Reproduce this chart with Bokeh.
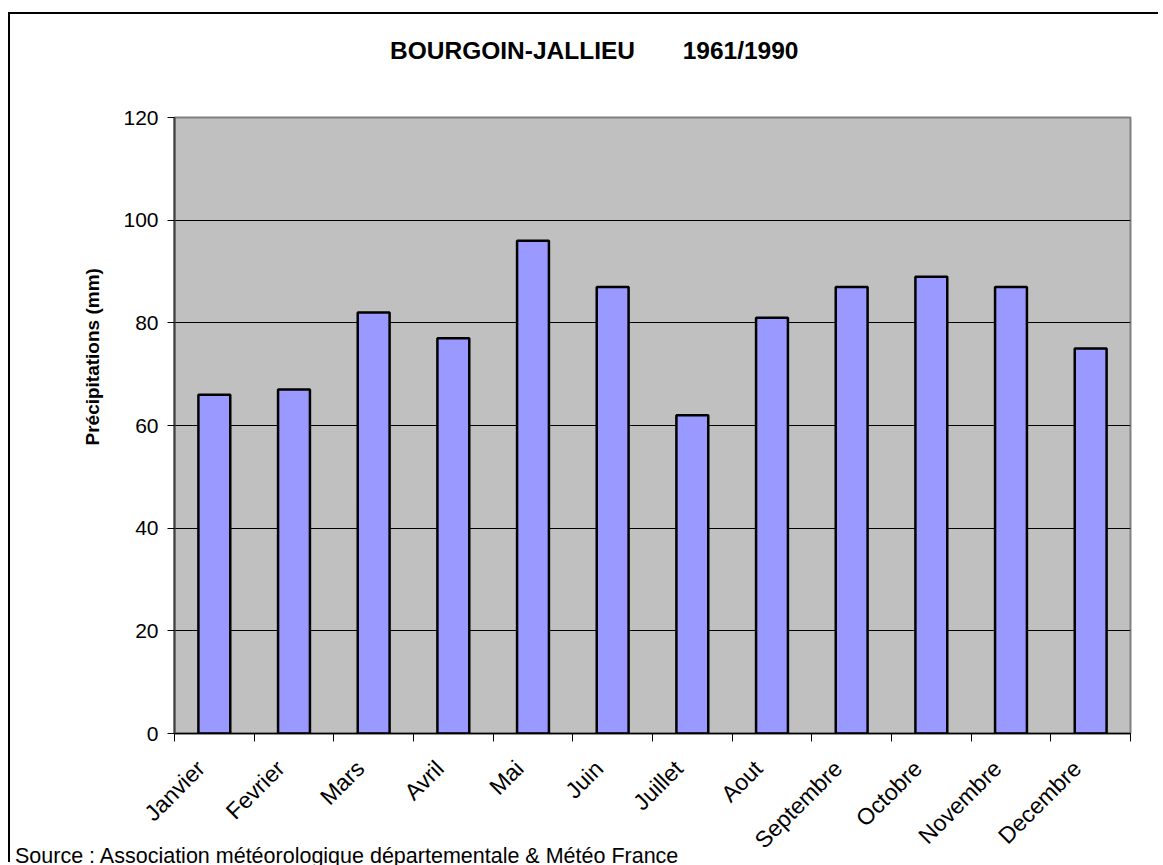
import math
from bokeh.plotting import figure
from bokeh.models import FixedTicker, Range1d, Title, Div
from bokeh.embed import file_html
from bokeh.resources import INLINE

months = ["Janvier", "Fevrier", "Mars", "Avril", "Mai", "Juin", "Juillet",
          "Aout", "Septembre", "Octobre", "Novembre", "Decembre"]
precip = [66, 67, 82, 77, 96, 87, 62, 81, 87, 89, 87, 75]
y_ticks = [0, 20, 40, 60, 80, 100, 120]
title_text = "BOURGOIN-JALLIEU\u00a0\u00a0\u00a0\u00a0\u00a0\u00a0\u00a01961/1990"
y_label = "Précipitations (mm)"
source_text = "Source : Association météorologique départementale & Météo France"

FONT = "Liberation Sans"
xs = [i + 0.5 for i in range(len(months))]
label_shift = 0.17
label_pos = [x - label_shift for x in xs]
bounds = list(range(len(months) + 1))

p = figure(width=1163, height=865, output_backend="svg", toolbar_location=None,
           x_range=Range1d(0, len(months)), y_range=Range1d(y_ticks[0], y_ticks[-1]),
           min_border_left=174, min_border_top=117, min_border_right=33,
           min_border_bottom=132, title=None)
p.background_fill_color = "#C0C0C0"
p.border_fill_color = "white"
p.outline_line_color = "#808080"
p.outline_line_width = 2

p.vbar(x=xs, top=precip, width=0.4, fill_color="#9999FF",
       line_color="black", line_width=2.5)

# x axis
xa = p.xaxis[0]
xa.ticker = FixedTicker(ticks=label_pos, minor_ticks=bounds)
xa.major_label_overrides = {x: m for x, m in zip(label_pos, months)}
xa.major_label_orientation = math.pi / 4
xa.major_tick_line_color = None
xa.major_tick_out = 0
xa.major_tick_in = 0
xa.minor_tick_line_color = "black"
xa.minor_tick_out = 8
xa.minor_tick_in = 0
xa.axis_line_color = "black"
xa.axis_line_width = 1.5
xa.major_label_text_font = FONT
xa.major_label_text_font_size = "23px"
xa.major_label_text_color = "black"
xa.major_label_standoff = 23

# y axis
ya = p.yaxis[0]
ya.ticker = FixedTicker(ticks=y_ticks)
ya.major_tick_out = 7
ya.major_tick_in = 0
ya.major_tick_line_color = "black"
ya.minor_tick_line_color = None
ya.axis_line_color = "#404040"
ya.axis_line_width = 2
ya.major_label_text_font = FONT
ya.major_label_text_font_size = "21px"
ya.major_label_text_color = "black"
ya.major_label_standoff = 9

p.xgrid.grid_line_color = None
p.ygrid.ticker = FixedTicker(ticks=y_ticks[1:-1])
p.ygrid.grid_line_color = "black"
p.ygrid.grid_line_width = 1

p.add_layout(Title(text=y_label, align="left", offset=288, standoff=36,
                   text_font=FONT, text_font_size="19px", text_font_style="bold",
                   text_color="black"), "left")

title_div = Div(text=title_text, width=460, height=30, margin=0,
                styles={"position": "absolute", "left": "390px", "top": "37px",
                        "font-family": FONT, "font-size": "24.5px",
                        "font-weight": "bold", "color": "black",
                        "white-space": "nowrap", "line-height": "normal"})
source = Div(text=source_text, width=700, height=21, margin=0,
             styles={"position": "absolute", "left": "15px", "top": "844px",
                     "font-family": FONT, "font-size": "21.5px", "color": "black",
                     "white-space": "nowrap", "line-height": "normal",
                     "overflow": "hidden"})
frame_border = Div(text="", width=1150, height=850, margin=0,
                   styles={"position": "absolute", "left": "8px", "top": "12px",
                           "border-left": "2px solid black",
                           "border-top": "2px solid black",
                           "pointer-events": "none"})

open("out.html", "w").write(file_html([p, title_div, source, frame_border], INLINE))
